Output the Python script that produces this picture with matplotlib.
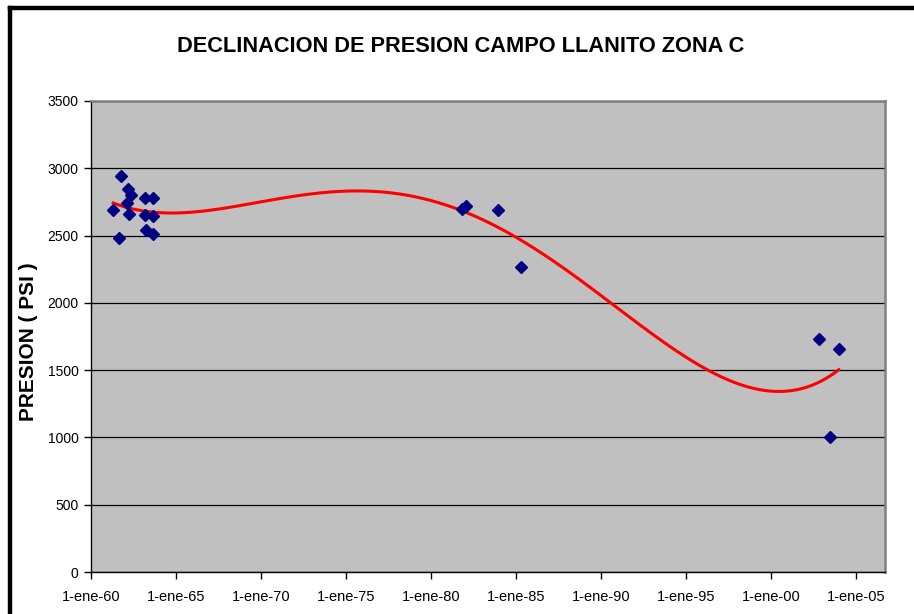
"""Declinacion de presion, Campo Llanito zona C: scatter + polynomial trend."""

import datetime as dt

import matplotlib
matplotlib.use("Agg")
import matplotlib.dates as mdates
import matplotlib.pyplot as plt
import numpy as np
from matplotlib.lines import Line2D

plt.rcParams["font.family"] = ["Liberation Sans", "DejaVu Sans"]

FECHAS = [
    "1961-04-22", "1961-09-27", "1961-08-28", "1962-02-06", "1962-03-10",
    "1962-05-01", "1962-04-01", "1963-03-04", "1963-08-15", "1963-03-04",
    "1963-08-15", "1963-03-25", "1963-08-15",
    "1981-11-07", "1982-01-30", "1983-12-05", "1985-04-12",
    "2002-10-27", "2003-12-28", "2003-06-13",
]
PRESION = [
    2690, 2940, 2480, 2740, 2845,
    2800, 2660, 2780, 2780, 2650,
    2645, 2545, 2510,
    2700, 2720, 2690, 2270,
    1730, 1655, 1000,
]
TICK_YEARS = list(range(1960, 2010, 5))
Y_TICKS = list(range(0, 3501, 500))


def main():
    fechas = [dt.datetime.strptime(f, "%Y-%m-%d") for f in FECHAS]
    x = mdates.date2num(fechas)
    y = np.array(PRESION, dtype=float)

    # Excel-style polynomial trendline (order 4).
    x0 = x.mean()
    coef = np.polyfit(x - x0, y, 4)
    xs = np.linspace(x.min(), x.max(), 300)
    ys = np.polyval(coef, xs - x0)

    fig = plt.figure(figsize=(9.14, 6.14), dpi=100)
    W, H = 914, 614
    ax = fig.add_axes([91 / W, 1 - 572 / H, (885 - 91) / W, (572 - 101) / H])
    ax.set_facecolor("#c0c0c0")

    ax.plot(xs, ys, color="#ff0000", lw=2.2, zorder=3)
    ax.plot(x, y, linestyle="none", marker="D", markersize=6.5,
            color="#000080", zorder=4)

    ax.set_ylim(0, 3500)
    ax.set_yticks(Y_TICKS)
    ax.yaxis.grid(True, color="black", lw=0.9)
    ax.set_axisbelow(True)

    ax.set_xlim(mdates.date2num(dt.datetime(1960, 1, 1)),
                mdates.date2num(dt.datetime(1960, 1, 1)) + (885 - 91) / 17.0 * 365.25)
    ticks = [mdates.date2num(dt.datetime(yr, 1, 1)) for yr in TICK_YEARS]
    ax.set_xticks(ticks)
    ax.set_xticklabels([f"1-ene-{yr % 100:02d}" for yr in TICK_YEARS])

    ax.tick_params(axis="both", direction="out", length=5, width=1,
                   color="black")
    ax.tick_params(axis="x", pad=8, labelsize=10.5)
    ax.tick_params(axis="y", pad=4, labelsize=10)
    for side in ("left", "bottom"):
        ax.spines[side].set_color("black")
        ax.spines[side].set_linewidth(1)
    for side in ("top", "right"):
        ax.spines[side].set_color("#808080")
        ax.spines[side].set_linewidth(1.8)

    ax.set_ylabel("PRESION ( PSI )", fontsize=15, fontweight="bold")
    ax.yaxis.set_label_coords((38 - 91) / 794, 0.49)
    fig.text(461 / W, 1 - 47 / H, "DECLINACION DE PRESION CAMPO LLANITO ZONA C",
             ha="center", va="center", fontsize=15.7, fontweight="bold")

    # Chart-area frame (only left and top visible in the crop).
    fig.add_artist(Line2D([9.5 / W, 9.5 / W], [0, 1 - 8 / H],
                          transform=fig.transFigure, color="black", lw=3.2,
                          solid_capstyle="projecting"))
    fig.add_artist(Line2D([9.5 / W, 1], [1 - 8 / H, 1 - 8 / H],
                          transform=fig.transFigure, color="black", lw=3.2,
                          solid_capstyle="projecting"))

    fig.savefig("out.png", dpi=100)
    plt.close(fig)


if __name__ == "__main__":
    main()
